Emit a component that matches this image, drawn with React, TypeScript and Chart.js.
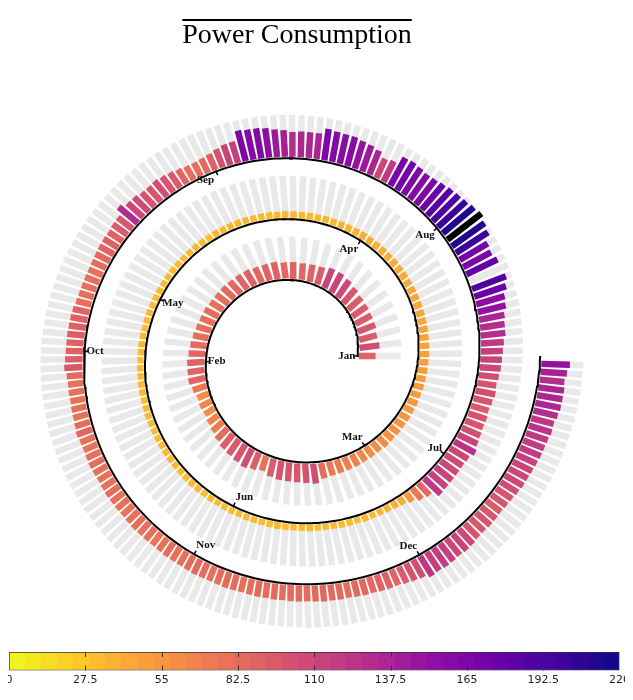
import { useEffect, useRef } from "react";
import { Chart, registerables } from "chart.js";

Chart.register(...registerables);

// ---- data ----
const TITLE = "Power Consumption";
const MONTHS = ["Jan", "Feb", "Mar", "Apr", "May", "Jun", "Jul", "Aug", "Sep", "Oct", "Nov", "Dec"];
const JAN = [88, 105, 95, 98, 95, 95, 95, 100, 108, 112, 110, 95, 90, 86, 88, 84, 90, 88, 86, 90, 88, 86, 85, 82, 80, 82, 80, 80, 82, 84, 86];
const FEB = [90, 88, 88, 75, 62, 65, 60, 66, 72, 82, 92, 95, 100, 105, 92, 80, 95, 100, 98, 98, 100, 105, 82, 75, 72, 70, 68, 64];
const MAR = [62, 60, 62, 58, 58, 56, 56, 54, 54, 52, 52, 50, 50, 48, 48, 47, 46, 46, 45, 44, 44, 43, 43, 42, 42, 41, 41, 40, 40, 40, 40];
const APR = [40, 38, 37, 36, 35, 36, 34, 35, 34, 35, 34, 33, 34, 34, 33, 34, 35, 34, 33, 34, 32, 33, 34, 33, 32, 33, 34, 33, 32, 33];
const MAY = [33, 32, 34, 33, 32, 33, 34, 33, 32, 33, 32, 34, 33, 32, 33, 34, 33, 32, 33, 32, 33, 34, 33, 32, 33, 34, 33, 32, 33, 32, 33];
const JUN = [33, 32, 34, 33, 32, 33, 34, 33, 32, 33, 34, 33, 32, 33, 34, 33, 32, 34, 33, 35, 36, 38, 42, 55, 75, 85, 120, 115, 112, 110];
const JUL = [108, 110, 125, 112, 105, 100, 100, 95, 100, 105, 100, 105, 110, 112, 115, 120, 130, 130, 135, 150, 155, 175, 190, 0, 180, 165, 170, 200, 210, 225, 212];
const AUG = [200, 192, 185, 175, 165, 160, 165, 170, 165, 120, 110, 135, 145, 150, 158, 158, 160, 165, 135, 135, 135, 130, 140, 145, 155, 160, 160, 165, 115, 112, 102];
const SEP = [90, 84, 80, 82, 88, 95, 100, 105, 100, 100, 108, 110, 130, 98, 95, 90, 90, 88, 85, 82, 80, 80, 80, 80, 82, 88, 90, 90, 92, 90];
const OCT = [90, 92, 96, 84, 80, 80, 78, 80, 80, 82, 86, 80, 78, 80, 82, 80, 78, 80, 82, 80, 80, 78, 80, 82, 80, 80, 78, 80, 82, 80, 80];
const NOV = [82, 84, 82, 80, 82, 84, 82, 80, 82, 84, 82, 84, 82, 84, 84, 82, 84, 86, 84, 84, 82, 84, 86, 85, 88, 90, 88, 95, 100, 105];
const DEC = [122, 116, 118, 115, 110, 112, 108, 100, 98, 100, 98, 95, 98, 100, 105, 110, 110, 112, 115, 118, 118, 120, 125, 122, 130, 135, 135, 135, 130, 138, 150];
const BY_MONTH = [JAN, FEB, MAR, APR, MAY, JUN, JUL, AUG, SEP, OCT, NOV, DEC];
const VALUES = BY_MONTH.flat();
const COLOR_TICKS = [0, 27.5, 55, 82.5, 110, 137.5, 165, 192.5, 220];
const VMAX = 220;

// ---- look ----
const MAIN_W = 578;
const MAIN_H = 636;
const TITLE_PAD_TOP = 11;
const TITLE_PAD_BOTTOM = 10;
const TITLE_SIZE = 28;
const CENTER_Y = 348; // canvas px of spiral centre
const R0 = 60.25;
const GROWTH = 30.5 / Math.PI; // px per radian
const PHI_END = 6 * Math.PI;
const GAP = 1.5;
const BAR_LEN = 42;
const BAR_W = 6.4;
const GREY = "#e9e9e9";
const MONTH_ANCHOR = ["end", "start", "end", "end", "start", "start", "end", "end", "end", "start", "start", "end"];

const PLASMA = ["#0d0887", "#41049d", "#6a00a8", "#8f0da4", "#b12a90", "#cc4778", "#e16462", "#f2844b", "#fca636", "#fcce25", "#f0f921"];

const hex = (h: string) => [1, 3, 5].map((i) => parseInt(h.slice(i, i + 2), 16));
const plasma = (t: number) => {
  t = Math.max(0, Math.min(1, t));
  const p = t * 10;
  const i = Math.min(9, Math.floor(p));
  const f = p - i;
  const a = hex(PLASMA[i]);
  const b = hex(PLASMA[i + 1]);
  const c = a.map((v, k) => Math.round(v + (b[k] - v) * f));
  return `rgb(${c[0]},${c[1]},${c[2]})`;
};
const valueColor = (v: number) => (v > VMAX ? "#000000" : plasma(1 - v / VMAX));

// spiral geometry: r = R0 + GROWTH * phi, days equally spaced along the curve
const TOTAL_LEN = R0 * PHI_END + (GROWTH * PHI_END * PHI_END) / 2;
const STEP = TOTAL_LEN / VALUES.length;
const dayPos = (i: number) => {
  const s = i * STEP;
  const phi = (-R0 + Math.sqrt(R0 * R0 + 2 * GROWTH * s)) / GROWTH;
  return { phi, r: R0 + GROWTH * phi };
};
const polar = (r: number, phi: number) => ({ x: r * Math.cos(phi), y: r * Math.sin(phi) });

const MONTH_START: number[] = [];
BY_MONTH.reduce((acc, m) => {
  MONTH_START.push(acc);
  return acc + m.length;
}, 0);

const GAP_POINT = { x: null, y: null };

const overlinePlugin = {
  id: "overline",
  afterDraw(chart: any) {
    const t = chart.titleBlock;
    if (!t) return;
    const c = chart.ctx;
    c.save();
    c.font = `${TITLE_SIZE}px 'Liberation Serif', serif`;
    const w = c.measureText(TITLE).width;
    const cx = (t.left + t.right) / 2;
    c.fillStyle = "#000";
    c.fillRect(cx - w / 2, t.top + TITLE_PAD_TOP, w, 2);
    c.restore();
  },
};

const monthPlugin = {
  id: "months",
  afterDatasetsDraw(chart: any) {
    const xs = chart.scales.x;
    const ys = chart.scales.y;
    const c = chart.ctx;
    c.save();
    c.font = "bold 11px 'Liberation Serif', serif";
    c.fillStyle = "#111";
    c.strokeStyle = "#000";
    c.lineWidth = 1.5;
    c.textBaseline = "middle";
    MONTH_START.forEach((d, m) => {
      const { phi, r } = dayPos(d);
      const a = polar(r - 4, phi);
      const b = polar(r + 1, phi);
      c.beginPath();
      c.moveTo(xs.getPixelForValue(a.x), ys.getPixelForValue(a.y));
      c.lineTo(xs.getPixelForValue(b.x), ys.getPixelForValue(b.y));
      c.stroke();
      const p = polar(r, phi);
      const start = MONTH_ANCHOR[m] === "start";
      c.textAlign = start ? "left" : "right";
      c.fillText(
        MONTHS[m],
        xs.getPixelForValue(p.x) + (start ? 2 : -2),
        ys.getPixelForValue(p.y) + 10 * Math.sin(phi)
      );
    });
    c.restore();
  },
};

const SpiralChart = () => {
  const ref = useRef<HTMLCanvasElement>(null);

  useEffect(() => {
    if (!ref.current) return;
    const grey: any[] = [];
    const bars: any[] = [];
    const colors: string[] = [];
    VALUES.forEach((v, i) => {
      const { phi, r } = dayPos(i);
      grey.push(polar(r + GAP, phi), polar(r + GAP + BAR_LEN, phi), GAP_POINT);
      bars.push(polar(r + GAP, phi), polar(r + GAP + (BAR_LEN * v) / VMAX, phi), GAP_POINT);
      colors.push(valueColor(v), valueColor(v), valueColor(v));
    });
    const line: any[] = [];
    for (let k = 0; k <= 900; k++) {
      const phi = (PHI_END * k) / 900;
      line.push(polar(R0 + GROWTH * phi, phi));
    }
    const titleH = TITLE_PAD_TOP + TITLE_SIZE * 1.2 + TITLE_PAD_BOTTOM;

    // Chart.js paints the last dataset first, so the baseline is listed first
    const chart = new Chart(ref.current, {
      type: "scatter",
      data: {
        datasets: [
          { data: line, showLine: true, borderColor: "#000", borderWidth: 2, pointRadius: 0 },
          {
            data: bars,
            showLine: true,
            borderColor: GREY,
            borderWidth: BAR_W,
            borderCapStyle: "butt",
            pointRadius: 0,
            segment: { borderColor: (ctx: any) => colors[ctx.p0DataIndex] },
          },
          { data: grey, showLine: true, borderColor: GREY, borderWidth: BAR_W, borderCapStyle: "butt", pointRadius: 0 },
        ],
      } as any,
      options: {
        responsive: false,
        animation: false,
        events: [],
        layout: { padding: 0 },
        scales: {
          x: { type: "linear", display: false, min: -MAIN_W / 2, max: MAIN_W / 2 },
          y: { type: "linear", display: false, min: CENTER_Y - MAIN_H, max: CENTER_Y - titleH },
        },
        plugins: {
          legend: { display: false },
          tooltip: { enabled: false },
          title: {
            display: true,
            text: TITLE,
            color: "#000",
            font: { family: "'Liberation Serif', serif", size: TITLE_SIZE, weight: "normal" },
            padding: { top: TITLE_PAD_TOP, bottom: TITLE_PAD_BOTTOM },
          },
        },
      } as any,
      plugins: [overlinePlugin, monthPlugin],
    });
    return () => chart.destroy();
  }, []);

  return <canvas ref={ref} width={MAIN_W} height={MAIN_H} style={{ display: "block" }} />;
};

const colorTickPlugin = {
  id: "colorTicks",
  afterDatasetsDraw(chart: any) {
    const xs = chart.scales.x;
    const { top, bottom } = chart.chartArea;
    const c = chart.ctx;
    c.save();
    c.strokeStyle = "#333";
    c.lineWidth = 1;
    COLOR_TICKS.slice(1, -1).forEach((v) => {
      const x = Math.round(xs.getPixelForValue(v)) + 0.5;
      c.beginPath();
      c.moveTo(x, top);
      c.lineTo(x, top + 5);
      c.moveTo(x, bottom - 5);
      c.lineTo(x, bottom);
      c.stroke();
    });
    c.restore();
  },
};

const ColorBar = () => {
  const ref = useRef<HTMLCanvasElement>(null);

  useEffect(() => {
    if (!ref.current) return;
    const chart = new Chart(ref.current, {
      type: "bar",
      data: {
        labels: [""],
        datasets: [
          {
            data: [[0, VMAX]],
            backgroundColor: (ctx: any) => {
              const area = ctx.chart.chartArea;
              if (!area) return "#ccc";
              const g = ctx.chart.ctx.createLinearGradient(area.left, 0, area.right, 0);
              const n = 38;
              for (let k = 0; k < n; k++) {
                const col = plasma(1 - (k + 0.5) / n);
                g.addColorStop(k / n, col);
                g.addColorStop((k + 1) / n, col);
              }
              return g;
            },
            borderColor: "#333",
            borderWidth: 1,
            borderSkipped: false,
            barPercentage: 1,
            categoryPercentage: 1,
          },
        ],
      } as any,
      options: {
        responsive: false,
        animation: false,
        events: [],
        indexAxis: "y",
        layout: { padding: { left: 9, right: 11, top: 8, bottom: 3 } },
        scales: {
          x: {
            type: "linear",
            min: 0,
            max: VMAX,
            afterBuildTicks: (axis: any) => {
              axis.ticks = COLOR_TICKS.map((v) => ({ value: v }));
            },
            ticks: { color: "#222", font: { family: "'DejaVu Sans', sans-serif", size: 11 }, padding: 3 },
            grid: { display: false, drawTicks: false },
            border: { display: false },
          },
          y: { display: false },
        },
        plugins: { legend: { display: false }, tooltip: { enabled: false } },
      } as any,
      plugins: [colorTickPlugin],
    });
    return () => chart.destroy();
  }, []);

  return <canvas ref={ref} width={633} height={48} style={{ display: "block", marginLeft: -8 }} />;
};

export default function App() {
  return (
    <div>
      <SpiralChart />
      <ColorBar />
    </div>
  );
}
